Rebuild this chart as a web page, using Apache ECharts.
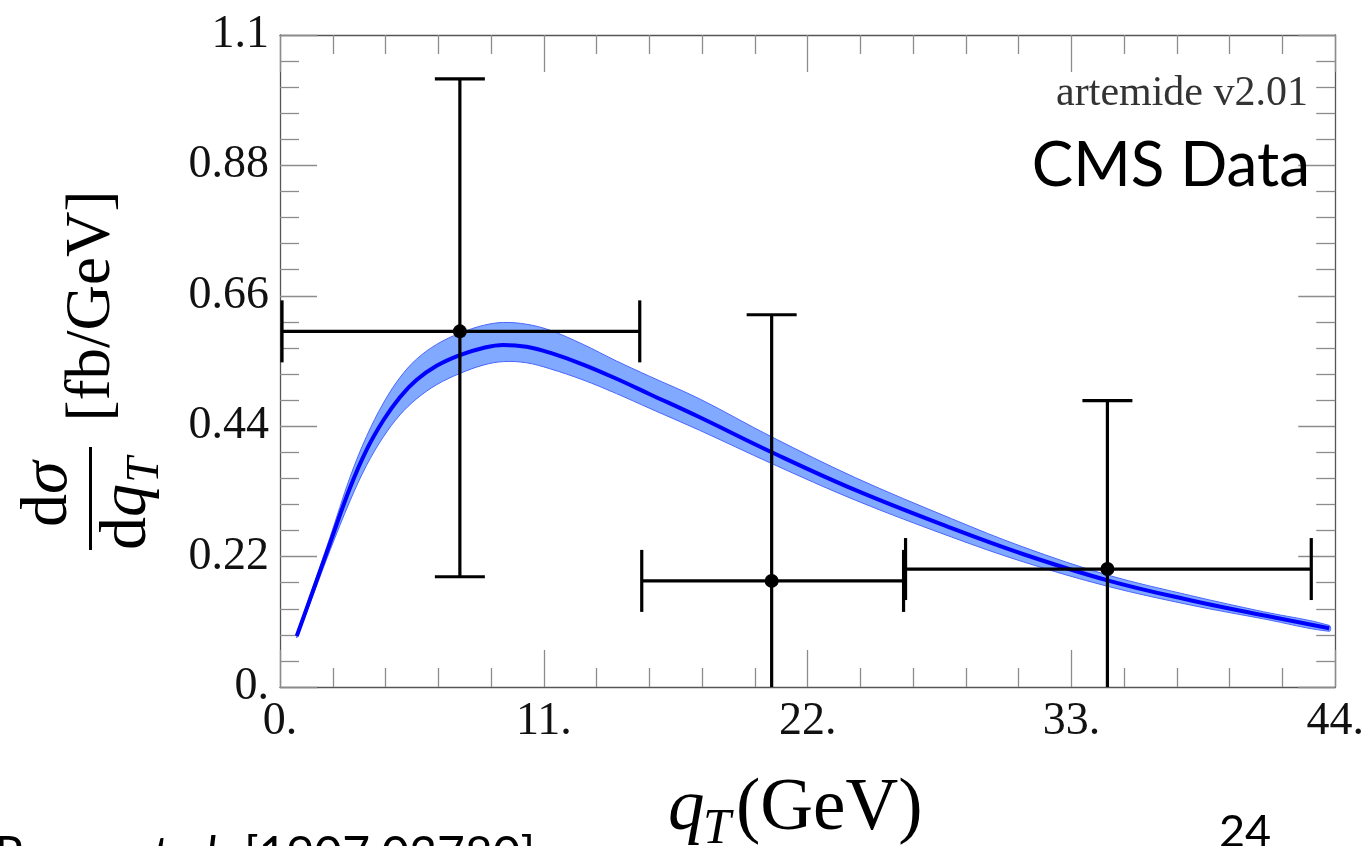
<!DOCTYPE html>
<html>
<head>
<meta charset="utf-8">
<title>artemide v2.01 – CMS Data</title>
<script src="https://cdn.jsdelivr.net/npm/echarts@6/dist/echarts.min.js"></script>
<style>
  html, body { margin: 0; padding: 0; background: #fff; }
  #chart { width: 1367px; height: 846px; }
</style>
</head>
<body>
<div id="chart"></div>
<script>
// Theory curve: q_T grid (GeV) with central value and uncertainty band (fb/GeV)
const qT      = [0.7, 1.25, 2.08, 2.92, 3.61, 4.31, 5.0, 5.69, 6.53, 7.5, 8.47, 9.31, 10.28, 11.25, 12.64, 14.03, 15.42, 17.5, 20.5, 24.0, 28.0, 31.0, 34.5, 38.0, 41.0, 43.75];
const central = [0.086, 0.148, 0.242, 0.336, 0.400, 0.450, 0.489, 0.518, 0.542, 0.560, 0.572, 0.577, 0.574, 0.564, 0.544, 0.520, 0.494, 0.455, 0.396, 0.332, 0.268, 0.224, 0.180, 0.146, 0.121, 0.099];
const upper   = [0.089, 0.154, 0.252, 0.354, 0.423, 0.479, 0.522, 0.553, 0.578, 0.597, 0.610, 0.615, 0.612, 0.602, 0.578, 0.550, 0.524, 0.486, 0.422, 0.353, 0.284, 0.236, 0.189, 0.154, 0.127, 0.104];
const lower   = [0.083, 0.141, 0.230, 0.314, 0.374, 0.422, 0.459, 0.486, 0.510, 0.529, 0.543, 0.549, 0.547, 0.537, 0.518, 0.495, 0.470, 0.433, 0.377, 0.315, 0.253, 0.211, 0.170, 0.138, 0.115, 0.094];

// CMS measurement: bin edges, bin centres, values and error limits
const binLow    = [0, 15, 26];
const binHigh   = [15, 26, 43];
const binCentre = [7.5, 20.5, 34.5];
const cmsValue  = [0.600, 0.179, 0.199];
const cmsErrLo  = [0.186, -0.270, -0.085];
const cmsErrHi  = [1.026, 0.628, 0.483];

// Axis ticks
const xMin = 0, xMax = 44, xStep = 11;
const yMin = 0, yMax = 1.1, yStep = 0.22;

const serif = '"Liberation Serif", "DejaVu Serif", serif';
const sans = 'Lato, "Open Sans", sans-serif';

function tickText(v) {
  const s = String(Number(v.toFixed(2)));
  return s.indexOf('.') < 0 ? s + '.' : s;
}

const centreLine = qT.map((x, i) => [x, central[i]]);
const cmsPoints = binCentre.map((x, i) => [x, cmsValue[i], binLow[i], binHigh[i], cmsErrLo[i], cmsErrHi[i]]);

const tickColor = '#8c8c8c';
function makeAxis(base) {
  return Object.assign({
    type: 'value',
    axisLine: { show: true, onZero: false, lineStyle: { color: '#555', width: 1.3 } },
    axisTick: { show: true, inside: true, length: 37, lineStyle: { color: tickColor, width: 1.3 } },
    minorTick: { show: true, splitNumber: 5, length: 19, lineStyle: { color: tickColor, width: 1.3 } },
    splitLine: { show: false },
    minorSplitLine: { show: false }
  }, base);
}

// Uncertainty band: closed outline along the upper edge and back along the lower edge
function renderBand(params, api) {
  const top = qT.map((x, i) => api.coord([x, upper[i]]));
  const bot = qT.map((x, i) => api.coord([x, lower[i]]));
  const outline = top.concat(bot.slice().reverse());
  return {
    type: 'group',
    children: [
      { type: 'polygon', shape: { points: outline, smooth: 0.35 },
        style: { fill: '#80a9ff', stroke: '#4a66ff', lineWidth: 1 } }
    ]
  };
}

function renderErrorBar(params, api) {
  const x = api.value(0), y = api.value(1);
  const xl = api.value(2), xh = api.value(3);
  const yl = api.value(4), yh = api.value(5);
  const c = api.coord([x, y]);
  const pL = api.coord([xl, y]);
  const pH = api.coord([xh, y]);
  const pB = api.coord([x, yl]);
  const pT = api.coord([x, yh]);
  const cs = params.coordSys;
  const bottom = cs.y + cs.height;
  const st = { stroke: '#000', lineWidth: 3.2 };
  const capH = 31, capV = 25;
  const kids = [
    { type: 'line', shape: { x1: pL[0] + 2, y1: c[1], x2: pH[0], y2: c[1] }, style: st },
    { type: 'line', shape: { x1: pL[0] + 2, y1: c[1] - capH, x2: pL[0] + 2, y2: c[1] + capH }, style: st },
    { type: 'line', shape: { x1: pH[0], y1: c[1] - capH, x2: pH[0], y2: c[1] + capH }, style: st },
    { type: 'line', shape: { x1: c[0], y1: Math.min(pB[1], bottom), x2: c[0], y2: pT[1] }, style: st },
    { type: 'line', shape: { x1: c[0] - capV, y1: pT[1], x2: c[0] + capV, y2: pT[1] }, style: st },
    { type: 'circle', shape: { cx: c[0], cy: c[1], r: 7 }, style: { fill: '#000' } }
  ];
  if (pB[1] <= bottom) {
    kids.push({ type: 'line', shape: { x1: c[0] - capV, y1: pB[1], x2: c[0] + capV, y2: pB[1] }, style: st });
  }
  return { type: 'group', children: kids };
}

const chart = echarts.init(document.getElementById('chart'), null, { renderer: 'canvas' });

const mathSize = 66;
const option = {
  animation: false,
  backgroundColor: '#fff',
  grid: { left: 280, right: 31, top: 35, bottom: 159, containLabel: false },
  xAxis: [
    makeAxis({
      min: xMin, max: xMax, interval: xStep, position: 'bottom',
      axisLabel: { show: true, margin: 12, color: '#111', fontFamily: serif, fontSize: 46, formatter: tickText }
    }),
    makeAxis({
      min: xMin, max: xMax, interval: xStep, position: 'top',
      axisLabel: { show: false }
    })
  ],
  yAxis: [
    makeAxis({
      min: yMin, max: yMax, interval: yStep, position: 'left',
      axisLabel: { show: true, margin: 11, color: '#111', fontFamily: serif, fontSize: 46, formatter: tickText }
    }),
    makeAxis({
      min: yMin, max: yMax, interval: yStep, position: 'right',
      axisLabel: { show: false }
    })
  ],
  series: [
    {
      type: 'custom', name: 'band', data: [[qT[0], central[0]]],
      renderItem: renderBand, silent: true, z: 2
    },
    {
      type: 'line', name: 'artemide', data: centreLine,
      smooth: 0.4, symbol: 'none',
      lineStyle: { color: '#0000ff', width: 4 }, z: 3
    },
    {
      type: 'custom', name: 'CMS', data: cmsPoints,
      renderItem: renderErrorBar,
      encode: { x: [0, 2, 3], y: [1, 4, 5] },
      z: 4
    }
  ],
  graphic: [
    // y-axis title: dσ / dq_T [fb/GeV], written bottom-to-top
    { type: 'text', x: 49, y: 494, rotation: Math.PI / 2,
      style: { text: 'd', fill: '#000', font: mathSize + 'px ' + serif, align: 'right', verticalAlign: 'middle' } },
    { type: 'text', x: 49, y: 494, rotation: Math.PI / 2,
      style: { text: 'σ', fill: '#000', font: 'italic ' + mathSize + 'px ' + serif, align: 'left', verticalAlign: 'middle' } },
    { type: 'rect', shape: { x: 89, y: 447, width: 3, height: 103 }, style: { fill: '#000' } },
    { type: 'text', x: 128, y: 517, rotation: Math.PI / 2,
      style: { text: 'd', fill: '#000', font: mathSize + 'px ' + serif, align: 'right', verticalAlign: 'middle' } },
    { type: 'text', x: 128, y: 517, rotation: Math.PI / 2,
      style: { text: 'q', fill: '#000', font: 'italic ' + mathSize + 'px ' + serif, align: 'left', verticalAlign: 'middle' } },
    { type: 'text', x: 146, y: 470, rotation: Math.PI / 2,
      style: { text: 'T', fill: '#000', font: 'italic 46px ' + serif, align: 'center', verticalAlign: 'middle' } },
    { type: 'text', x: 92, y: 306, rotation: Math.PI / 2,
      style: { text: '[fb/GeV]', fill: '#000', font: '63px ' + serif, align: 'center', verticalAlign: 'middle' } },

    // x-axis title: q_T(GeV)
    { type: 'text', x: 668, y: 810,
      style: { text: 'q', fill: '#000', font: 'italic 73px ' + serif, align: 'left', verticalAlign: 'middle' } },
    { type: 'text', x: 703, y: 830,
      style: { text: 'T', fill: '#000', font: 'italic 50px ' + serif, align: 'left', verticalAlign: 'middle' } },
    { type: 'text', x: 736, y: 810,
      style: { text: '(GeV)', fill: '#000', font: '73px ' + serif, align: 'left', verticalAlign: 'middle' } },

    // annotations inside the frame
    { type: 'text', x: 1308, y: 94, z: 10,
      style: { text: 'artemide v2.01', fill: '#333', font: '42px ' + serif, align: 'right', verticalAlign: 'middle' } },
    { type: 'text', x: 1310, y: 166, z: 10,
      style: { text: 'CMS Data', fill: '#000', font: '62px ' + sans, align: 'right', verticalAlign: 'middle' } },

    // footer
    { type: 'text', x: 118, y: 856,
      style: { text: 'Gutierrez-Reyes', fill: '#000', font: '48px ' + sans, align: 'right', verticalAlign: 'middle' } },
    { type: 'text', x: 130, y: 856,
      style: { text: 'et al.', fill: '#000', font: 'italic 48px ' + sans, align: 'left', verticalAlign: 'middle' } },
    { type: 'text', x: 244, y: 856,
      style: { text: '[1907.03780]', fill: '#000', font: '48px ' + sans, align: 'left', verticalAlign: 'middle' } },
    { type: 'text', x: 1245, y: 832,
      style: { text: '24', fill: '#000', font: '45px ' + sans, align: 'center', verticalAlign: 'middle' } }
  ]
};

chart.setOption(option);
</script>
</body>
</html>
